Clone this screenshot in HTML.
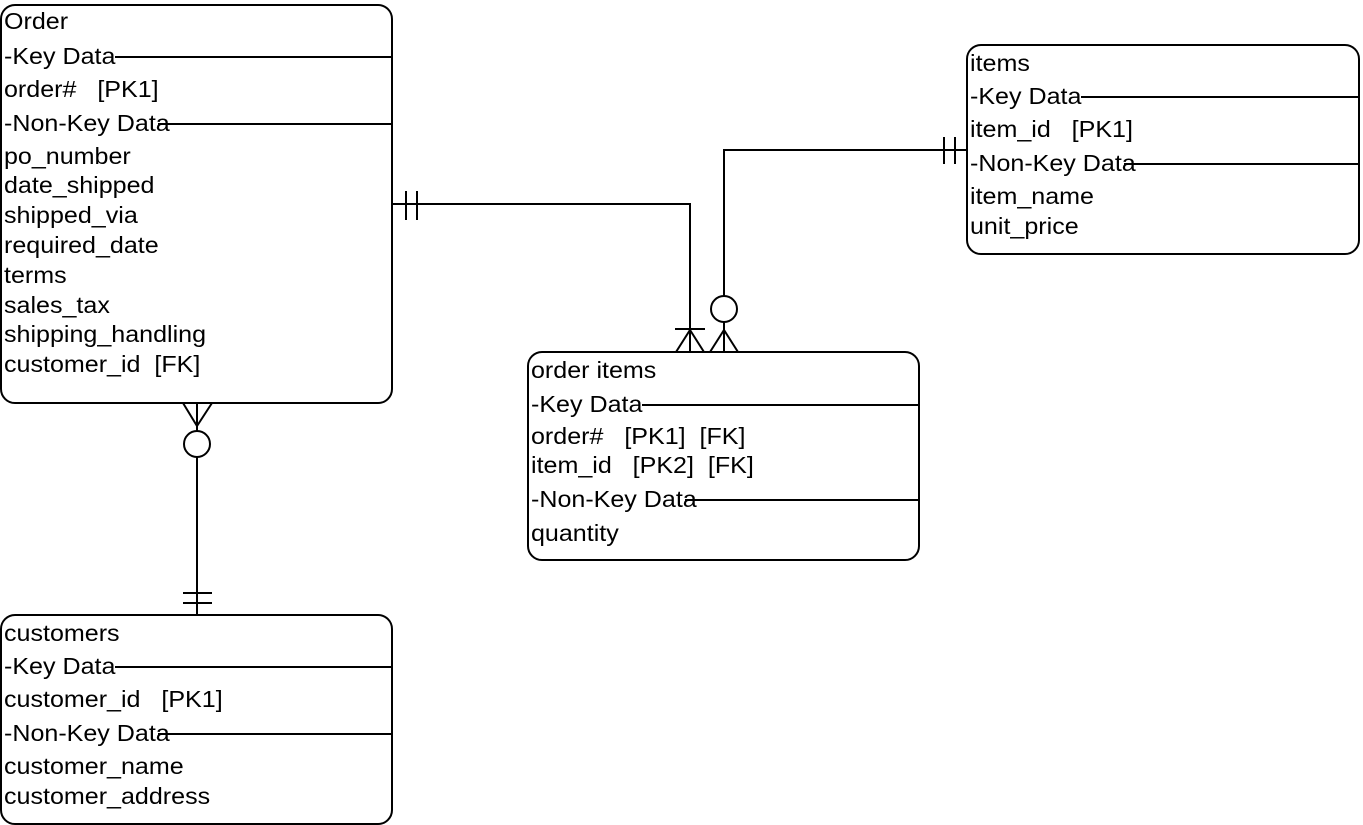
<!DOCTYPE html>
<html><head><meta charset="utf-8"><style>
html,body{margin:0;padding:0;background:#fff;}
svg{display:block;}
text{font-family:"Liberation Sans",Arial,sans-serif;font-size:23px;fill:#000;dominant-baseline:central;white-space:pre;}
</style></head><body>
<svg width="1363" height="825" viewBox="0 0 1363 825" xmlns="http://www.w3.org/2000/svg">
<g fill="none" stroke="#000" stroke-width="2">
<rect x="1" y="5" width="391" height="398" rx="14"/>
<rect x="1" y="615" width="391" height="209" rx="14"/>
<rect x="967" y="45" width="392" height="209" rx="14"/>
<rect x="528" y="352" width="391" height="208" rx="14"/>
<line x1="115" y1="57" x2="392" y2="57"/>
<line x1="158" y1="124" x2="392" y2="124"/>
<line x1="115" y1="667" x2="392" y2="667"/>
<line x1="158" y1="734" x2="392" y2="734"/>
<line x1="1081" y1="97" x2="1359" y2="97"/>
<line x1="1124" y1="164" x2="1359" y2="164"/>
<line x1="642" y1="405" x2="919" y2="405"/>
<line x1="685" y1="500" x2="919" y2="500"/>
<polyline points="392,204 690,204 690,352"/>
<line x1="406" y1="191" x2="406" y2="220"/>
<line x1="417" y1="191" x2="417" y2="220"/>
<line x1="675" y1="329" x2="705" y2="329"/>
<polyline points="676,352 690,330 704,352"/>
<polyline points="967,150 724,150 724,352"/>
<line x1="944" y1="137" x2="944" y2="164"/>
<line x1="955" y1="137" x2="955" y2="164"/>
<circle cx="724" cy="309" r="13" fill="#fff"/>
<polyline points="710,352 724,330 738,352"/>
<line x1="197" y1="403" x2="197" y2="615"/>
<polyline points="183,403 197,426 212,403"/>
<circle cx="197" cy="444" r="13" fill="#fff"/>
<line x1="183" y1="593" x2="212" y2="593"/>
<line x1="183" y1="603" x2="212" y2="603"/>
</g>
<g transform="translate(4,0) scale(1.09,1)">
<text x="0" y="22">Order</text>
<text x="0" y="57">-Key Data</text>
<text x="0" y="90">order#   [PK1]</text>
<text x="0" y="124">-Non-Key Data</text>
<text x="0" y="157">po_number</text>
<text x="0" y="186">date_shipped</text>
<text x="0" y="216">shipped_via</text>
<text x="0" y="246">required_date</text>
<text x="0" y="276">terms</text>
<text x="0" y="306">sales_tax</text>
<text x="0" y="335">shipping_handling</text>
<text x="0" y="365">customer_id  [FK]</text>
<text x="0" y="634">customers</text>
<text x="0" y="667">-Key Data</text>
<text x="0" y="700">customer_id   [PK1]</text>
<text x="0" y="734">-Non-Key Data</text>
<text x="0" y="767">customer_name</text>
<text x="0" y="797">customer_address</text>
</g>
<g transform="translate(970,0) scale(1.09,1)">
<text x="0" y="64">items</text>
<text x="0" y="97">-Key Data</text>
<text x="0" y="130">item_id   [PK1]</text>
<text x="0" y="164">-Non-Key Data</text>
<text x="0" y="197">item_name</text>
<text x="0" y="227">unit_price</text>
</g>
<g transform="translate(531,0) scale(1.09,1)">
<text x="0" y="371">order items</text>
<text x="0" y="405">-Key Data</text>
<text x="0" y="437">order#   [PK1]  [FK]</text>
<text x="0" y="466">item_id   [PK2]  [FK]</text>
<text x="0" y="500">-Non-Key Data</text>
<text x="0" y="534">quantity</text>
</g>
</svg>
</body></html>
